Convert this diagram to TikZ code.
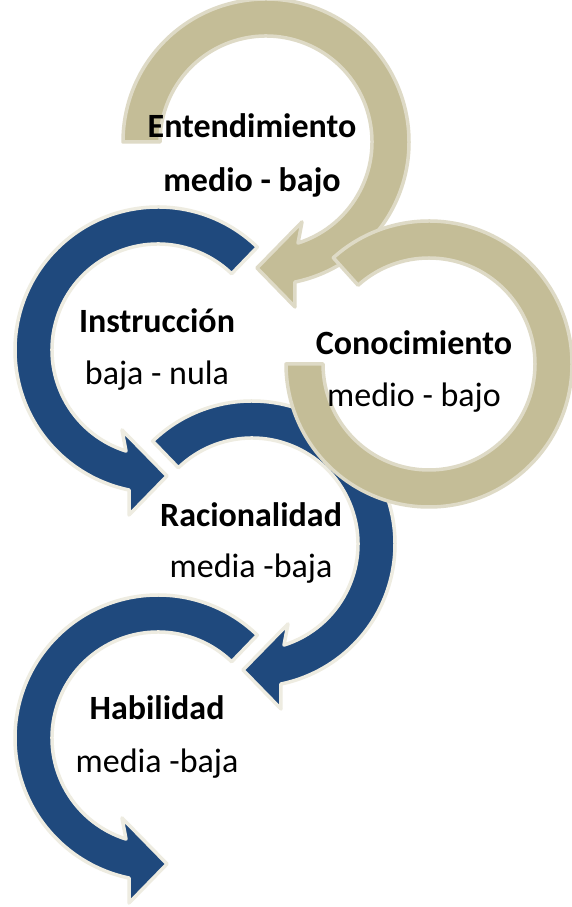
\documentclass[tikz,border=0pt]{standalone}
\usepackage{fontspec}
\setmainfont{Carlito}
\definecolor{tanfill}{HTML}{C4BD97}
\definecolor{bluefill}{HTML}{1F497D}
\definecolor{tanline}{HTML}{DEDAC6}
\definecolor{blueline}{HTML}{EEECE1}
\tikzset{
  tanring/.style={fill=tanfill, draw=tanline, line width=3.5pt, line join=round},
  bluering/.style={fill=bluefill, draw=blueline, line width=3.5pt, line join=round},
  headtxt/.style={anchor=base, font=\fontsize{34}{40}\selectfont\bfseries, inner sep=0pt},
  subtxt/.style={anchor=base, font=\fontsize{34}{40}\selectfont, inner sep=0pt},
  subbold/.style={anchor=base, font=\fontsize{34}{40}\selectfont\bfseries, inner sep=0pt}
}
\begin{document}
\begin{tikzpicture}[x=1pt,y=1pt]
\useasboundingbox (0,0) rectangle (572,907);
\fill[white] (0,0) rectangle (572,907);
% centres (pixel coords converted: y = 907 - ypx)
\coordinate (c1) at (266,765);
\coordinate (c2) at (158,557);
\coordinate (c3) at (429,543);
\coordinate (c4) at (252,363);
\coordinate (c5) at (158,169);
% circle 1 (tan, clockwise)
\draw[tanring, shift={(c1)}] (180:143) arc[start angle=180, end angle=-78.38, radius=143]
  -- (-80.03:167.5) -- (-94.09:126.3) -- (-65.77:87.7) -- (-72.42:106)
  arc[start angle=-72.42, end angle=180, radius=106] -- cycle;
% circle 2 (blue, counter-clockwise)
\draw[bluering, shift={(c2)}] (46:143) arc[start angle=46, end angle=258.38, radius=143]
  -- (260.03:167.5) -- (274.09:126.3) -- (245.77:87.7) -- (252.42:106)
  arc[start angle=252.42, end angle=46, radius=106] -- cycle;
% circle 4 (blue, clockwise)
\draw[bluering, shift={(c4)}] (134:143) arc[start angle=134, end angle=-78.38, radius=143]
  -- (-80.03:167.5) -- (-94.09:126.3) -- (-65.77:87.7) -- (-72.42:106)
  arc[start angle=-72.42, end angle=134, radius=106] -- cycle;
% circle 5 (blue, counter-clockwise)
\draw[bluering, shift={(c5)}] (46:143) arc[start angle=46, end angle=258.38, radius=143]
  -- (260.03:167.5) -- (274.09:126.3) -- (245.77:87.7) -- (252.42:106)
  arc[start angle=252.42, end angle=46, radius=106] -- cycle;
% circle 3 (tan, flat ends)
\draw[tanring, shift={(c3)}] (132:143) arc[start angle=132, end angle=-180, radius=143]
  -- (-180:106) arc[start angle=-180, end angle=132, radius=106] -- cycle;
% texts
\node[headtxt] (t1a) at (252,769) {Entendimiento};
\node[subbold] (t1b) at (252,715) {medio - bajo};
\node[headtxt] (t2a) at (157,574) {Instrucción};
\node[subtxt]  (t2b) at (157,522) {baja - nula};
\node[headtxt] (t3a) at (414,552) {Conocimiento};
\node[subtxt]  (t3b) at (414,500) {medio - bajo};
\node[headtxt] (t4a) at (251,380) {Racionalidad};
\node[subtxt]  (t4b) at (251,329) {media -baja};
\node[headtxt] (t5a) at (157,187) {Habilidad};
\node[subtxt]  (t5b) at (157,134) {media -baja};
\end{tikzpicture}
\end{document}
